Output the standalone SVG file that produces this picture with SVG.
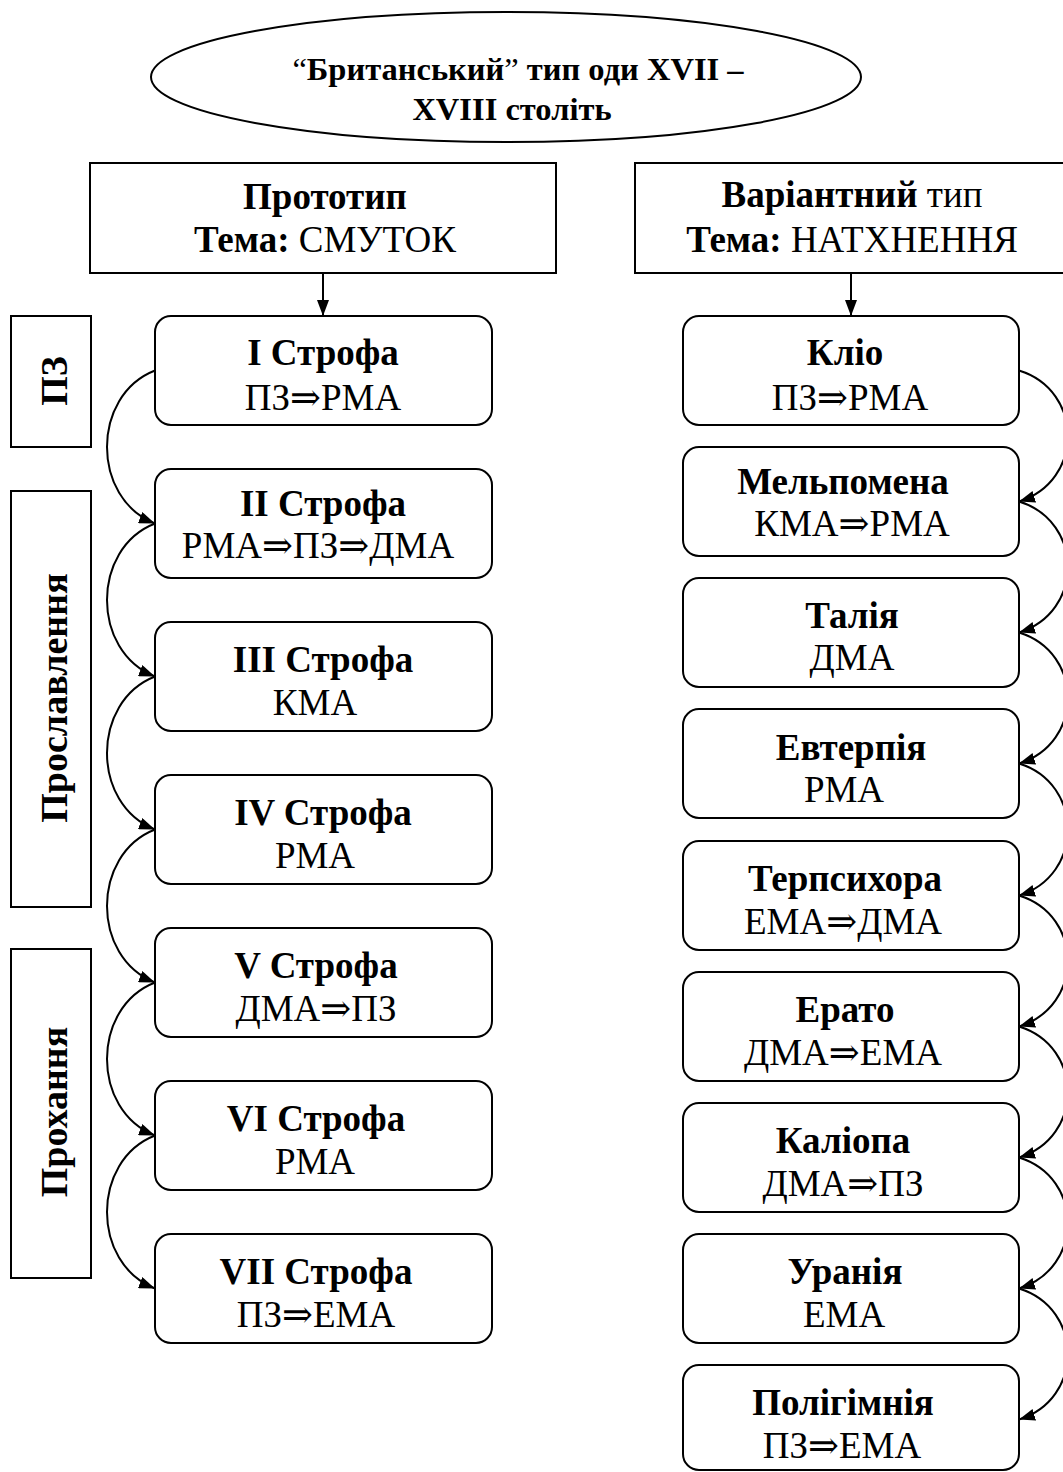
<svg xmlns="http://www.w3.org/2000/svg" width="1063" height="1472" viewBox="0 0 1063 1472">
<style>
text{font-family:"Liberation Serif","Times New Roman","DejaVu Serif",serif;fill:#000;text-anchor:middle}
.b{font-weight:bold}
.n{font-weight:normal}
.t{font-size:32.5px}
.h{font-size:37px}
.s{font-size:37px}
.v{font-size:38px;font-weight:bold}
.box{fill:#fff;stroke:#000;stroke-width:2}
.c{fill:none;stroke:#000;stroke-width:2}
</style>
<defs>
<marker id="ah" viewBox="0 0 16 12" refX="16" refY="6" markerWidth="16" markerHeight="12" markerUnits="userSpaceOnUse" orient="auto">
<path d="M0,0 L16,6 L0,12 Z" fill="#000"/>
</marker>
</defs>
<rect width="1063" height="1472" fill="#fff"/>

<g id="title">
<ellipse cx="506" cy="77" rx="355" ry="65" class="box"/>
<text class="t b" x="518" y="80"><tspan class="n">“</tspan>Британський<tspan class="n">”</tspan> тип оди XVII –</text>
<text class="t b" x="512" y="120">XVIII століть</text>
</g>

<g id="prototype">
<rect x="90" y="163" width="466" height="110" class="box"/>
<text class="h b" x="325" y="209">Прототип</text>
<text class="h" x="325" y="252"><tspan class="b">Тема:</tspan> СМУТОК</text>
</g>

<g id="variant">
<rect x="635" y="163" width="432" height="110" class="box"/>
<text class="h" x="852" y="207"><tspan class="b">Варіантний</tspan> тип</text>
<text class="h" x="852" y="252"><tspan class="b">Тема:</tspan> НАТХНЕННЯ</text>
</g>

<g id="label-pz">
<rect x="11" y="316" width="80" height="131" class="box"/>
<text class="v" transform="translate(67,381) rotate(-90)">ПЗ</text>
</g>
<g id="label-proslavlennia">
<rect x="11" y="491" width="80" height="416" class="box"/>
<text class="v" transform="translate(67,698) rotate(-90)">Прославлення</text>
</g>
<g id="label-prokhannia">
<rect x="11" y="949" width="80" height="329" class="box"/>
<text class="v" transform="translate(67,1112) rotate(-90)">Прохання</text>
</g>

<g id="s1"><rect x="155" y="316" width="337" height="109" rx="16" class="box"/>
<text class="s b" x="323" y="365">I Строфа</text><text class="s" x="323" y="410">ПЗ⇒РМА</text></g>
<g id="s2"><rect x="155" y="469" width="337" height="109" rx="16" class="box"/>
<text class="s b" x="323" y="516">II Строфа</text><text class="s" x="318" y="558">РМА⇒ПЗ⇒ДМА</text></g>
<g id="s3"><rect x="155" y="622" width="337" height="109" rx="16" class="box"/>
<text class="s b" x="323" y="672">III Строфа</text><text class="s" x="315" y="715">КМА</text></g>
<g id="s4"><rect x="155" y="775" width="337" height="109" rx="16" class="box"/>
<text class="s b" x="323" y="825">IV Строфа</text><text class="s" x="315" y="868">РМА</text></g>
<g id="s5"><rect x="155" y="928" width="337" height="109" rx="16" class="box"/>
<text class="s b" x="316" y="978">V Строфа</text><text class="s" x="316" y="1021">ДМА⇒ПЗ</text></g>
<g id="s6"><rect x="155" y="1081" width="337" height="109" rx="16" class="box"/>
<text class="s b" x="316" y="1131">VI Строфа</text><text class="s" x="315" y="1174">РМА</text></g>
<g id="s7"><rect x="155" y="1234" width="337" height="109" rx="16" class="box"/>
<text class="s b" x="316" y="1284">VII Строфа</text><text class="s" x="316" y="1327">ПЗ⇒ЕМА</text></g>

<g id="m1"><rect x="683" y="316" width="336" height="109" rx="16" class="box"/>
<text class="s b" x="845" y="365">Кліо</text><text class="s" x="850" y="410">ПЗ⇒РМА</text></g>
<g id="m2"><rect x="683" y="447" width="336" height="109" rx="16" class="box"/>
<text class="s b" x="843" y="494">Мельпомена</text><text class="s" x="852" y="536">КМА⇒РМА</text></g>
<g id="m3"><rect x="683" y="578" width="336" height="109" rx="16" class="box"/>
<text class="s b" x="852" y="628">Талія</text><text class="s" x="852" y="670">ДМА</text></g>
<g id="m4"><rect x="683" y="709" width="336" height="109" rx="16" class="box"/>
<text class="s b" x="851" y="760">Евтерпія</text><text class="s" x="844" y="802">РМА</text></g>
<g id="m5"><rect x="683" y="841" width="336" height="109" rx="16" class="box"/>
<text class="s b" x="845" y="891">Терпсихора</text><text class="s" x="843" y="934">ЕМА⇒ДМА</text></g>
<g id="m6"><rect x="683" y="972" width="336" height="109" rx="16" class="box"/>
<text class="s b" x="845" y="1022">Ерато</text><text class="s" x="843" y="1065">ДМА⇒ЕМА</text></g>
<g id="m7"><rect x="683" y="1103" width="336" height="109" rx="16" class="box"/>
<text class="s b" x="843" y="1153">Каліопа</text><text class="s" x="843" y="1196">ДМА⇒ПЗ</text></g>
<g id="m8"><rect x="683" y="1234" width="336" height="109" rx="16" class="box"/>
<text class="s b" x="845" y="1284">Уранія</text><text class="s" x="844" y="1327">ЕМА</text></g>
<g id="m9"><rect x="683" y="1365" width="336" height="105" rx="16" class="box"/>
<text class="s b" x="843" y="1415">Полігімнія</text><text class="s" x="842" y="1458">ПЗ⇒ЕМА</text></g>

<g id="connectors" class="c">
<path d="M323,273 V316" marker-end="url(#ah)"/>
<path d="M851,273 V316" marker-end="url(#ah)"/>
<path d="M155,370.5 C91,395.5 91,498.5 155,523.5" marker-end="url(#ah)"/>
<path d="M155,523.5 C91,548.5 91,651.5 155,676.5" marker-end="url(#ah)"/>
<path d="M155,676.5 C91,701.5 91,804.5 155,829.5" marker-end="url(#ah)"/>
<path d="M155,829.5 C91,854.5 91,957.5 155,982.5" marker-end="url(#ah)"/>
<path d="M155,982.5 C91,1007.5 91,1110.5 155,1135.5" marker-end="url(#ah)"/>
<path d="M155,1135.5 C91,1160.5 91,1263.5 155,1288.5" marker-end="url(#ah)"/>
<path d="M1019,370.5 C1084,390.5 1084,481.5 1019,501.5" marker-end="url(#ah)"/>
<path d="M1019,501.5 C1084,521.5 1084,612.5 1019,632.5" marker-end="url(#ah)"/>
<path d="M1019,632.5 C1084,652.5 1084,743.5 1019,763.5" marker-end="url(#ah)"/>
<path d="M1019,763.5 C1084,783.5 1084,875.5 1019,895.5" marker-end="url(#ah)"/>
<path d="M1019,895.5 C1084,915.5 1084,1006.5 1019,1026.5" marker-end="url(#ah)"/>
<path d="M1019,1026.5 C1084,1046.5 1084,1137.5 1019,1157.5" marker-end="url(#ah)"/>
<path d="M1019,1157.5 C1084,1177.5 1084,1268.5 1019,1288.5" marker-end="url(#ah)"/>
<path d="M1019,1288.5 C1084,1308.5 1084,1399.5 1019,1419.5" marker-end="url(#ah)"/>
</g>
</svg>
